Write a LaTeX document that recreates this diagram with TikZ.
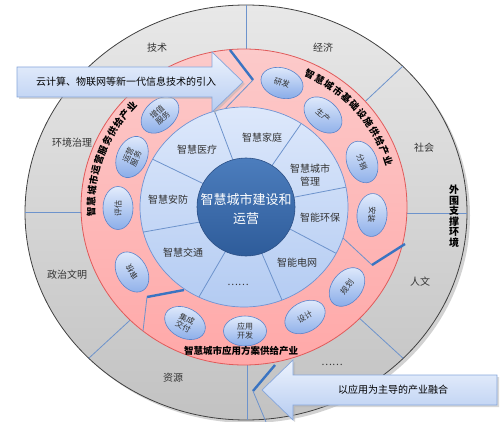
\documentclass[tikz,border=0pt]{standalone}
\usepackage{fontspec}
\setmainfont{Noto Sans CJK SC}
\usetikzlibrary{shapes.geometric}
\definecolor{greyT}{HTML}{E8E8E8}
\definecolor{greyB}{HTML}{C2C2C2}
\definecolor{greyE}{HTML}{404040}
\definecolor{pinkT}{HTML}{FCCACA}
\definecolor{pinkB}{HTML}{FFA8A8}
\definecolor{pinkE}{HTML}{E05A5A}
\definecolor{blueT}{HTML}{DDE8FB}
\definecolor{blueB}{HTML}{B3CBF2}
\definecolor{blueE}{HTML}{6F93D3}
\definecolor{coreT}{HTML}{4C7DBD}
\definecolor{coreB}{HTML}{2E5C9A}
\definecolor{coreE}{HTML}{2B4F86}
\definecolor{ovT}{HTML}{E3ECFC}
\definecolor{ovB}{HTML}{8CAEE9}
\definecolor{ovE}{HTML}{5B84CB}
\definecolor{arT}{HTML}{EDF3FD}
\definecolor{arB}{HTML}{B6CCF1}
\definecolor{arE}{HTML}{86A6DB}
\definecolor{divc}{HTML}{6D93CC}
\definecolor{chev}{HTML}{3A74C2}
\definecolor{txt}{HTML}{333333}
\begin{document}
\begin{tikzpicture}[x=1pt,y=-1pt,
  divline/.style={draw=divc, line width=0.8},
  chevthick/.style={draw=chev, line width=2.4},
  chevthin/.style={draw=divc, line width=0.8},
  glbl/.style={font=\fontsize{10}{12}\selectfont, text=txt, inner sep=1},
  rlbl/.style={font=\fontsize{10}{12.5}\selectfont, text=txt, inner sep=1, align=center},
  oval/.style={ellipse, draw=ovE, line width=0.6, top color=ovT, bottom color=ovB,
     minimum width=43, minimum height=30, inner sep=0, align=center,
     font=\fontsize{8}{8.6}\selectfont, text=txt},
  curv/.style={font=\fontsize{9.5}{10}\selectfont\bfseries, inner sep=0, text=black},
  arrowbox/.style={top color=arT, bottom color=arB, draw=arE, line width=0.7},
  atext/.style={font=\fontsize{10}{12}\selectfont, text=black, inner sep=1}]
\useasboundingbox (0,0) rectangle (500,422);
% outer grey disk
\fill[black!35, opacity=0.5] (249,215.5) ellipse [x radius=221, y radius=207.5];
\shade[top color=greyT, bottom color=greyB, draw=greyE, line width=0.8] (246,212.5) ellipse [x radius=221, y radius=207.5];
\begin{scope}
\clip (246,212.5) ellipse [x radius=221, y radius=207.5];
\draw[divline] (246,0) -- (246,60);
\draw[divline] (404,65) -- (355,111);
\draw[divline] (470,213) -- (395,213);
\draw[divline] (405,360) -- (345,305);
\draw[divline] (247,430) -- (247,350);
\draw[divline] (88,359) -- (140,311);
\draw[divline] (20,212) -- (95,212);
\end{scope}
% pink ring
\shade[top color=pinkT, bottom color=pinkB, draw=pinkE, line width=0.8] (244,207) ellipse [x radius=163, y radius=158];
% chevron dividers
\draw[chevthick] (230,50) -- (253,80);
\draw[chevthin] (253,80) -- (222,112);
\draw[chevthin] (343,238) -- (372,265);
\draw[chevthick] (372,265) -- (405,244);
\draw[chevthick] (184,290) -- (147,297);
\draw[chevthin] (147,297) -- (143,331);
% light blue ring
\shade[top color=blueT, bottom color=blueB, draw=blueE, line width=0.7] (244,207) ellipse [x radius=104, y radius=100];
\begin{scope}
\clip (244,207) ellipse [x radius=104, y radius=100];
\draw[divline] (213,107) -- (234,163);
\draw[divline] (303,121) -- (271,167);
\draw[divline] (352,186) -- (290,198);
\draw[divline] (345,258) -- (288,228);
\draw[divline] (285,307) -- (260,249);
\draw[divline] (196,302) -- (228,247);
\draw[divline] (138,233) -- (200,222);
\draw[divline] (148,157) -- (204,184);
\end{scope}
% core
\shade[top color=coreT, bottom color=coreB, draw=coreE, line width=0.6] (246,207) circle [radius=49];
\node[font=\fontsize{13}{19}\selectfont, text=white, align=center, inner sep=0] (core) at (246,209) {智慧城市建设和\\运营};
% ring labels
\node[rlbl] (jt) at (262,138) {智慧家庭};
\node[rlbl] (csgl) at (310,175) {智慧城市\\管理};
\node[rlbl] (hb) at (320,218) {智能环保};
\node[rlbl] (dw) at (297,263) {智能电网};
\node[rlbl] (dots1) at (238,285) {……};
\node[rlbl] (jtong) at (183,253) {智慧交通};
\node[rlbl] (af) at (168,200) {智慧安防};
\node[rlbl] (yl) at (197,150) {智慧医疗};
% grey labels
\node[glbl] (js) at (157,48) {技术};
\node[glbl] (jj) at (323,48) {经济};
\node[glbl] (sh) at (424,148) {社会};
\node[font=\fontsize{10}{10.5}\selectfont\bfseries, text=black, align=center, inner sep=0] (wz) at (454,216) {外\\围\\支\\撑\\环\\境};
\node[glbl] (rw) at (420,282) {人文};
\node[glbl] (dots2) at (332,365) {……};
\node[glbl] (zy) at (173,378) {资源};
\node[glbl] (zz) at (67,275) {政治文明};
\node[glbl] (hj) at (72,143) {环境治理};
% ovals
\node[oval, rotate=42] (o1) at (160,115) {增值\\服务};
\node[oval, rotate=66] (o2) at (132,157) {运营\\服务};
\node[oval, rotate=90] (o3) at (118,208) {评估};
\node[oval, rotate=120] (o4) at (132,272) {审核};
\node[oval, rotate=-17] (o5) at (282,83) {研发};
\node[oval, rotate=-41] (o6) at (323,115) {生产};
\node[oval, rotate=-69] (o7) at (362,162) {分销};
\node[oval, rotate=-94] (o8) at (372,215) {安装};
\node[oval, rotate=52] (o9) at (347,287) {规划};
\node[oval, rotate=29] (o10) at (305,317) {设计};
\node[oval] (o11) at (245,331) {应用\\开发};
\node[oval, rotate=-27] (o12) at (185,323) {集成\\交付};
% curved texts
\foreach \ch [count=\i from 0] in {智,慧,城,市,基,础,设,施,供,给,产,业}{
  \pgfmathsetmacro\a{64.4-4.18*\i}
  \node[curv, rotate=\a-90] (tr\i) at ({244+152*cos(\a)},{207-147*sin(\a)}) {\ch};
}
\foreach \ch [count=\i from 0] in {智,慧,城,市,运,营,服,务,供,给,产,业}{
  \pgfmathsetmacro\a{181.8-4.05*\i}
  \node[curv, rotate=\a-90] (tl\i) at ({244+153*cos(\a)},{207-148*sin(\a)}) {\ch};
}
\node[curv] (bt) at (241,351) {智慧城市应用方案供给产业};
% top arrow
\fill[black!30, opacity=0.5] (19,69) -- (214,69) -- (214,54) -- (245,84) -- (214,114) -- (214,99) -- (19,99) -- cycle;
\shade[arrowbox] (17,67) -- (212,67) -- (212,52) -- (243,82) -- (212,112) -- (212,97) -- (17,97) -- cycle;
\node[atext] (ta) at (126,82) {云计算、物联网等新一代信息技术的引入};
% bottom arrow
\draw[chevthick] (275,365) -- (253,391);
\draw[chevthin] (253,391) -- (266,422);
\fill[black!30, opacity=0.5] (499,377) -- (295,377) -- (295,362) -- (264,392) -- (295,422) -- (295,407) -- (499,407) -- cycle;
\shade[arrowbox] (497,375) -- (293,375) -- (293,360) -- (262,390) -- (293,420) -- (293,405) -- (497,405) -- cycle;
\node[atext] (ba) at (393,390) {以应用为主导的产业融合};
\end{tikzpicture}
\end{document}
